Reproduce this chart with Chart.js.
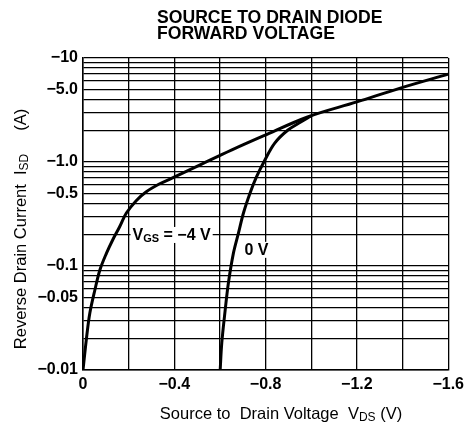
<!DOCTYPE html>
<html>
<head>
<meta charset="utf-8">
<script src="https://cdn.jsdelivr.net/npm/chart.js@4.4.1/dist/chart.umd.min.js"></script>
<style>
  html, body { margin: 0; padding: 0; background: #fff; }
  #wrap { position: relative; width: 469px; height: 426px; }
</style>
</head>
<body>
<div id="wrap"><canvas id="diodeChart" width="469" height="426"></canvas></div>
<script>
// values (volts, amps; both negative)
var vdsGs4 = [0, -0.016, -0.03, -0.052, -0.074, -0.103, -0.13, -0.16, -0.19, -0.233, -0.276, -0.334, -0.39, -0.52, -0.65, -0.79, -0.984, -1.2, -1.39, -1.6];
var isdGs4 = [-0.01, -0.0209, -0.0353, -0.0588, -0.0916, -0.133, -0.178, -0.237, -0.323, -0.425, -0.515, -0.614, -0.70, -0.955, -1.3, -1.78, -2.71, -3.78, -5.14, -7.0];

var vdsGs0 = [-0.601, -0.608, -0.623, -0.637, -0.659, -0.681, -0.703, -0.732, -0.76, -0.797, -0.84, -0.898, -0.954, -0.997];
var isdGs0 = [-0.01, -0.0182, -0.0378, -0.0687, -0.133, -0.207, -0.323, -0.503, -0.718, -1.045, -1.52, -2.03, -2.42, -2.75];

var yTickLabels = [-10, -5, -1, -0.5, -0.1, -0.05, -0.01];
var xTickLabels = [0, -0.4, -0.8, -1.2, -1.6];

var titleLines = ["SOURCE TO DRAIN DIODE", "FORWARD VOLTAGE"];
var curveLabels = [
  { parts: [["V", 0], ["GS", 1], [" = \u22124 V", 0]], v: -0.217, i: -0.178 },
  { parts: [["0 V", 0]], v: -0.707, i: -0.128 }
];

var FONT = '"Liberation Sans", Arial, Helvetica, sans-serif';

function pts(xs, ys) {
  return xs.map(function (x, k) { return { x: x, y: Math.abs(ys[k]) }; });
}

function minusFmt(v, digits) {
  if (v === 0) return "0";
  return "\u2212" + Math.abs(v).toFixed(digits);
}

// draws text with subscript pieces, returns width
function drawParts(ctx, parts, x, y, size, weight, measureOnly) {
  var cx = x;
  parts.forEach(function (p) {
    var sub = p[1] === 1;
    ctx.font = weight + " " + (sub ? Math.round(size * 0.7) : size) + "px " + FONT;
    if (!measureOnly) ctx.fillText(p[0], cx, sub ? y + size * 0.15 : y);
    cx += ctx.measureText(p[0]).width;
  });
  return cx - x;
}

var textPlugin = {
  id: "sheetText",
  afterDatasetsDraw: function (chart) {
    var ctx = chart.ctx;
    var xs = chart.scales.x, ys = chart.scales.y;
    ctx.save();
    ctx.textAlign = "left";
    ctx.textBaseline = "alphabetic";
    // curve labels on a white patch, like the datasheet
    curveLabels.forEach(function (lb) {
      var px = xs.getPixelForValue(lb.v), py = ys.getPixelForValue(Math.abs(lb.i));
      var w = drawParts(ctx, lb.parts, px, py, 16, "bold", true);
      ctx.fillStyle = "#fff";
      ctx.fillRect(px - 2, py - 13, w + 4, 16);
      ctx.fillStyle = "#000";
      drawParts(ctx, lb.parts, px, py, 16, "bold");
    });
    ctx.restore();
  },
  afterDraw: function (chart) {
    var ctx = chart.ctx;
    ctx.save();
    ctx.fillStyle = "#000";
    ctx.textAlign = "left";
    ctx.textBaseline = "alphabetic";

    // title
    ctx.font = "bold 17.6px " + FONT;
    ctx.fillText(titleLines[0], 157, 23);
    ctx.fillText(titleLines[1], 157, 39);

    // x axis title
    var xParts = [["Source to  Drain Voltage  V", 0], ["DS", 1], [" (V)", 0]];
    var w = drawParts(ctx, xParts, 0, 0, 16.5, "normal", true);
    drawParts(ctx, xParts, 281 - w / 2, 419, 16.5, "normal");

    // y axis title
    var yParts = [["Reverse Drain Current  I", 0], ["SD", 1], ["     (A)", 0]];
    var wy = drawParts(ctx, yParts, 0, 0, 16.5, "normal", true);
    ctx.translate(26, 229);
    ctx.rotate(-Math.PI / 2);
    drawParts(ctx, yParts, -wy / 2, 0, 16.5, "normal");
    ctx.restore();
  }
};

var ctx = document.getElementById("diodeChart").getContext("2d");
var lineStyle = {
  borderColor: "#000",
  borderWidth: 3,
  pointRadius: 0,
  fill: false,
  tension: 0.35
};

var chart = new Chart(ctx, {
  type: "line",
  data: {
    datasets: [
      Object.assign({ label: "VGS = -4 V", data: pts(vdsGs4, isdGs4) }, lineStyle),
      Object.assign({ label: "0 V", data: pts(vdsGs0, isdGs0) }, lineStyle)
    ]
  },
  options: {
    responsive: false,
    animation: false,
    layout: { padding: { left: 0, right: 17, top: 58, bottom: 0 } },
    plugins: { legend: { display: false }, tooltip: { enabled: false } },
    scales: {
      x: {
        type: "linear",
        min: -1.6,
        max: 0,
        reverse: true,
        afterFit: function (s) { s.height = 56; },
        border: { color: "#000", width: 1.5 },
        grid: { color: "#000", lineWidth: 1.3, drawTicks: false },
        ticks: {
          stepSize: 0.2,
          padding: 5,
          color: "#000",
          maxRotation: 0,
          autoSkip: false,
          font: { family: FONT, size: 16, weight: "bold" },
          callback: function (v) {
            var hit = xTickLabels.some(function (t) { return Math.abs(t - v) < 1e-6; });
            return hit ? minusFmt(v, 1) : "";
          }
        }
      },
      y: {
        type: "logarithmic",
        min: 0.01,
        max: 10,
        afterFit: function (s) { s.width = 83; },
        afterBuildTicks: function (s) {
          // keep only 1..9 x decade lines
          s.ticks = s.ticks.filter(function (t) {
            var m = t.value / Math.pow(10, Math.floor(Math.log10(t.value) + 1e-9));
            return Math.abs(m - Math.round(m)) < 1e-6;
          });
        },
        border: { color: "#000", width: 1.5 },
        grid: { color: "#000", lineWidth: 1.3, drawTicks: false },
        ticks: {
          padding: 5,
          color: "#000",
          autoSkip: false,
          font: { family: FONT, size: 16, weight: "bold" },
          callback: function (v) {
            var hit = yTickLabels.some(function (t) { return Math.abs(Math.abs(t) - v) < 1e-9; });
            if (!hit) return "";
            if (v >= 10) return "\u221210";
            if (v === 0.05 || v === 0.01) return minusFmt(v, 2);
            return minusFmt(v, 1);
          }
        }
      }
    }
  },
  plugins: [textPlugin]
});
</script>
</body>
</html>
